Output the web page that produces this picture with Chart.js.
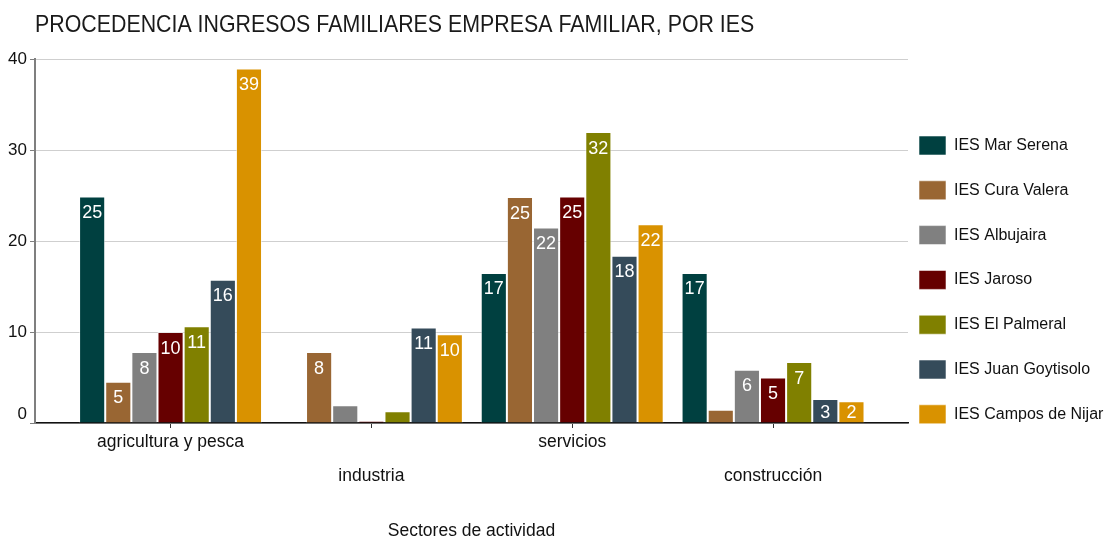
<!DOCTYPE html>
<html>
<head>
<meta charset="utf-8">
<script src="https://cdn.jsdelivr.net/npm/chart.js@4"></script>
<style>
  html, body { margin: 0; padding: 0; background: #fff; }
  canvas { display: block; }
</style>
</head>
<body>
<canvas id="chart" width="1107" height="540"></canvas>
<script>
// categories and series
const categories = ['agricultura y pesca', 'industria', 'servicios', 'construcción'];
const schools = ['IES Mar Serena', 'IES Cura Valera', 'IES Albujaira', 'IES Jaroso',
                 'IES El Palmeral', 'IES Juan Goytisolo', 'IES Campos de Nijar'];
const marSerena     = [24.9, null, 16.5, 16.5];
const curaValera    = [4.55, 7.8, 24.85, 1.45];
const albujaira     = [7.8, 1.95, 21.5, 5.85];
const jaroso        = [10, 0, 24.9, 5];
const elPalmeral    = [10.65, 1.3, 32, 6.7];
const juanGoytisolo = [15.75, 10.5, 18.4, 2.65];
const camposNijar   = [39, 9.75, 21.85, 2.4];
const yTicks = [0, 10, 20, 30, 40];

const series = [marSerena, curaValera, albujaira, jaroso, elPalmeral, juanGoytisolo, camposNijar];
const colors = ['#004040', '#996633', '#808080', '#660000', '#808000', '#354b5a', '#d99200'];

const FONT = '"Liberation Sans", Arial, sans-serif';
Chart.defaults.font.family = FONT;
Chart.defaults.color = '#111';

// labels only where the bar is tall enough to hold them
const LABEL_MIN = 2.2;

const barLabels = {
  id: 'barLabels',
  afterDatasetsDraw(chart) {
    const ctx = chart.ctx;
    const base = chart.scales.y.getPixelForValue(0);
    ctx.save();
    ctx.fillStyle = '#fff';
    ctx.font = '18px ' + FONT;
    ctx.textAlign = 'center';
    ctx.textBaseline = 'middle';
    chart.data.datasets.forEach((ds, di) => {
      chart.getDatasetMeta(di).data.forEach((bar, i) => {
        const v = ds.data[i].y;
        if (v == null || v < LABEL_MIN) return;
        const y = Math.min(bar.y + 16.5, base - 10);
        ctx.fillText(String(Math.round(v)), bar.x, y);
      });
    });
    ctx.restore();
  }
};

// nudge title and legend to where the original puts them; title is a narrow face
const placeBlocks = {
  id: 'placeBlocks',
  afterLayout(chart) {
    const pad = chart.legend.options.labels.padding;
    chart.legend.left = 919 - pad;
    chart.legend.top = 136 - pad;
    const title = chart.titleBlock;
    title.left = 35;
    if (!title._narrow) {
      const draw = title.draw;
      title.draw = function () {
        const ctx = this.ctx;
        ctx.save();
        ctx.translate(this.left, 0);
        ctx.scale(0.89, 1);
        ctx.translate(-this.left, 0);
        draw.apply(this, arguments);
        ctx.restore();
      };
      title._narrow = true;
    }
  }
};

new Chart(document.getElementById('chart'), {
  type: 'bar',
  data: {
    datasets: series.map((vals, k) => ({
      label: schools[k],
      data: vals.map((v, i) => ({ x: i, y: v })),
      backgroundColor: colors[k],
      borderColor: 'rgba(255,255,255,0.55)',
      borderWidth: 1,
      minBarLength: k === 3 ? 2 : 0
    }))
  },
  options: {
    responsive: false,
    animation: false,
    layout: { padding: 0 },
    categoryPercentage: 0.911,
    barPercentage: 1,
    plugins: {
      title: {
        display: true,
        text: 'PROCEDENCIA INGRESOS FAMILIARES EMPRESA FAMILIAR, POR IES',
        align: 'start',
        color: '#1a1a1a',
        font: { size: 24, weight: 'normal', lineHeight: 1.2 },
        padding: { top: 10.5, bottom: 20 }
      },
      legend: {
        position: 'right',
        align: 'start',
        maxWidth: 199,
        labels: {
          boxWidth: 27,
          boxHeight: 19,
          padding: 25.8,
          color: '#111',
          font: { size: 16 }
        }
      },
      tooltip: { enabled: false }
    },
    scales: {
      x: {
        type: 'linear',
        min: -0.675,
        max: 3.672,
        offset: false,
        afterBuildTicks: (scale) => { scale.ticks = categories.map((c, i) => ({ value: i })); },
        afterFit: (scale) => { scale.height = 117; },
        ticks: {
          autoSkip: false,
          maxRotation: 0,
          padding: -2.5,
          color: '#111',
          font: { size: 17.5, lineHeight: '34px' },
          callback: (v) => (v % 2 ? ['', categories[v]] : categories[v])
        },
        grid: { offset: false, drawOnChartArea: false, drawTicks: true, tickLength: 5, color: '#333' },
        border: { color: '#111', width: 1.5 },
        title: {
          display: true,
          text: 'Sectores de actividad',
          color: '#111',
          font: { size: 17.5, lineHeight: 1 },
          padding: 0
        }
      },
      y: {
        min: 0,
        max: 40,
        afterBuildTicks: (scale) => { scale.ticks = yTicks.map(v => ({ value: v })); },
        afterFit: (scale) => { scale.width = 35; },
        ticks: {
          padding: 3,
          color: '#111',
          font: { size: 17, lineHeight: 1 },
          callback: (v) => (v === 0 ? ['0', ''] : String(v))
        },
        grid: { color: '#cfcfcf', tickColor: '#7f7f7f', tickLength: 5 },
        border: { color: '#7f7f7f', width: 2 }
      }
    }
  },
  plugins: [barLabels, placeBlocks]
});
</script>
</body>
</html>
